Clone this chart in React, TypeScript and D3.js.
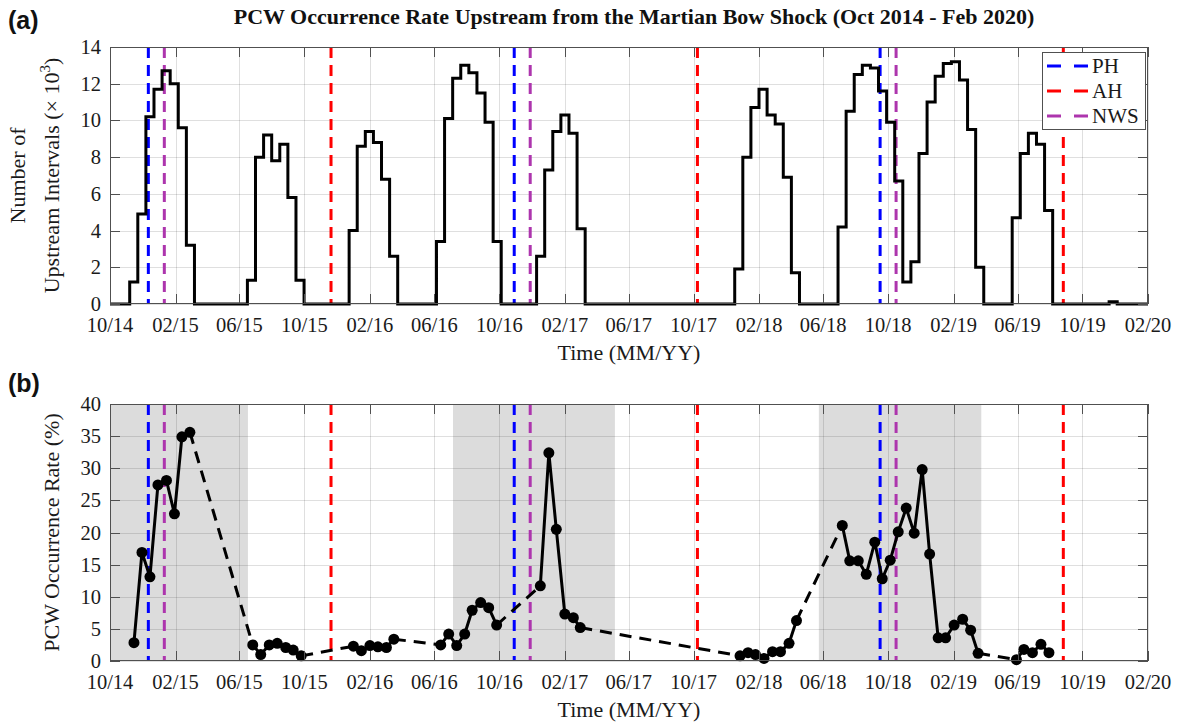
import React from "react";
import * as d3 from "d3";

// ---------- data ----------
const xStart = "2014-10-01";
const xEnd = "2020-02-01";
const xTickLabels = ["10/14", "02/15", "06/15", "10/15", "02/16", "06/16", "10/16", "02/17", "06/17", "10/17", "02/18", "06/18", "10/18", "02/19", "06/19", "10/19", "02/20"];
const yTicksTop = [0, 2, 4, 6, 8, 10, 12, 14];
const yTicksBottom = [0, 5, 10, 15, 20, 25, 30, 35, 40];

// histogram (counts x 10^3), bins of ~half a month
const binDays = 15.2;
const histRunStarts = ["2014-11-07", "2015-06-16", "2015-12-24", "2016-06-05", "2016-12-10", "2017-12-17", "2018-06-29", "2019-05-22", "2019-11-20"];
const histRun1 = [1.2, 4.9, 10.2, 11.7, 12.7, 12.0, 9.6, 3.2];
const histRun2 = [1.3, 8.0, 9.2, 7.8, 8.7, 5.8, 1.3];
const histRun3 = [4.0, 8.6, 9.4, 8.8, 6.8, 2.6];
const histRun4 = [3.4, 10.1, 12.3, 13.0, 12.6, 11.5, 9.9, 3.4];
const histRun5 = [2.6, 7.3, 9.4, 10.3, 9.3, 4.1];
const histRun6 = [1.9, 8.0, 10.7, 11.7, 10.3, 9.8, 6.9, 1.7];
const histRun7 = [4.2, 10.5, 12.5, 13.0, 12.85, 11.6, 9.9, 6.7, 1.2, 2.3, 8.2, 11.0, 12.4, 13.1, 13.2, 12.2, 9.5, 2.0];
const histRun8 = [4.7, 8.2, 9.3, 8.7, 5.1];
const histRun9 = [0.12];
const histRuns = [histRun1, histRun2, histRun3, histRun4, histRun5, histRun6, histRun7, histRun8, histRun9];

// occurrence rate (%)
const rateDates = [
  "2014-11-15", "2014-11-30", "2014-12-15", "2014-12-30", "2015-01-15", "2015-01-30", "2015-02-13", "2015-02-28",
  "2015-06-26", "2015-07-11", "2015-07-27", "2015-08-11", "2015-08-27", "2015-09-10", "2015-09-25",
  "2016-01-01", "2016-01-16", "2016-02-01", "2016-02-16", "2016-03-03", "2016-03-17",
  "2016-06-13", "2016-06-28", "2016-07-13", "2016-07-28", "2016-08-11", "2016-08-27", "2016-09-11", "2016-09-26",
  "2016-12-17", "2017-01-02", "2017-01-16", "2017-02-01", "2017-02-17", "2017-03-02",
  "2017-12-27", "2018-01-11", "2018-01-25", "2018-02-10", "2018-02-26", "2018-03-13", "2018-03-29", "2018-04-12",
  "2018-07-07", "2018-07-21", "2018-08-06", "2018-08-21", "2018-09-06", "2018-09-20", "2018-10-05", "2018-10-20",
  "2018-11-04", "2018-11-19", "2018-12-04", "2018-12-18", "2019-01-03", "2019-01-17", "2019-02-02", "2019-02-18",
  "2019-03-05", "2019-03-19",
  "2019-05-30", "2019-06-13", "2019-06-29", "2019-07-15", "2019-07-30",
];
const rateValues = [
  2.85, 16.9, 13.1, 27.4, 28.1, 22.9, 34.9, 35.6,
  2.5, 1.0, 2.5, 2.75, 2.1, 1.7, 0.8,
  2.3, 1.6, 2.4, 2.2, 2.1, 3.4,
  2.5, 4.2, 2.4, 4.2, 7.9, 9.1, 8.3, 5.6,
  11.7, 32.4, 20.5, 7.3, 6.75, 5.2,
  0.8, 1.3, 1.0, 0.4, 1.45, 1.45, 2.75, 6.3,
  21.1, 15.6, 15.6, 13.5, 18.5, 12.8, 15.7, 20.1,
  23.8, 19.9, 29.8, 16.65, 3.6, 3.6, 5.6, 6.5,
  4.8, 1.2,
  0.2, 1.8, 1.3, 2.6, 1.3,
];

// shaded seasons
const shadeStarts = ["2014-09-01", "2016-07-06", "2018-05-24"];
const shadeEnds = ["2015-06-17", "2017-05-06", "2019-03-25"];

// Mars orbit markers
const phDates = ["2014-12-12", "2016-10-29", "2018-09-16"];
const ahDates = ["2015-11-20", "2017-10-08", "2019-08-26"];
const nwsDates = ["2015-01-11", "2016-11-28", "2018-10-16"];
const markerNames = ["PH", "AH", "NWS"];

// ---------- style ----------
const BLUE = "#0000ff";
const RED = "#ff0000";
const PURPLE = "#ad35ad";
const SERIF = "'Liberation Serif', 'Times New Roman', serif";
const SANS = "'Liberation Sans', Arial, sans-serif";
const TICK_FS = 20.5;
const LABEL_FS = 22;

const parse = d3.utcParse("%Y-%m-%d") as (s: string) => Date;
const addDays = (d: Date, n: number) => new Date(d.getTime() + n * 864e5);

const W = 1188, H = 728;
const L = 110, R = 1148;
const topT = 47, topB = 304;
const botT = 404, botB = 661;
const TICK = 10;

function Grid({ y, ticks, top, bottom, x, tickDates }: any) {
  return (
    <g>
      {tickDates.map((d: Date, i: number) => (
        <line key={"gx" + i} x1={Math.round(x(d)) + 0.5} x2={Math.round(x(d)) + 0.5} y1={top} y2={bottom} stroke="#262626" strokeOpacity={0.15} strokeWidth={1} />
      ))}
      {ticks.map((t: number, i: number) => (
        <line key={"gy" + i} x1={L} x2={R} y1={Math.round(y(t)) + 0.5} y2={Math.round(y(t)) + 0.5} stroke="#262626" strokeOpacity={0.15} strokeWidth={1} />
      ))}
    </g>
  );
}

function Frame({ y, ticks, top, bottom, x, tickDates }: any) {
  return (
    <g>
      <rect x={L + 0.5} y={top + 0.5} width={R - L - 1} height={bottom - top - 1} fill="none" stroke="#505050" strokeWidth={1} />
      {tickDates.map((d: Date, i: number) => {
        const xx = Math.round(x(d)) + 0.5;
        return (
          <g key={"tx" + i}>
            <line x1={xx} x2={xx} y1={bottom} y2={bottom - TICK} stroke="#505050" />
            <line x1={xx} x2={xx} y1={top} y2={top + TICK} stroke="#505050" />
            <text x={x(d)} y={bottom + 28} textAnchor="middle" fontFamily={SERIF} fontSize={TICK_FS} fill="#1a1a1a">{xTickLabels[i]}</text>
          </g>
        );
      })}
      {ticks.map((t: number, i: number) => {
        const yy = Math.round(y(t)) + 0.5;
        return (
          <g key={"ty" + i}>
            <line x1={L} x2={L + TICK} y1={yy} y2={yy} stroke="#505050" />
            <line x1={R} x2={R - TICK} y1={yy} y2={yy} stroke="#505050" />
            <text x={101} y={y(t) + 7} textAnchor="end" fontFamily={SERIF} fontSize={TICK_FS} fill="#1a1a1a">{t}</text>
          </g>
        );
      })}
    </g>
  );
}

function VLines({ x, top, bottom }: any) {
  const sets = [
    { dates: nwsDates, color: PURPLE },
    { dates: phDates, color: BLUE },
    { dates: ahDates, color: RED },
  ];
  return (
    <g>
      {sets.map((s, i) =>
        s.dates.map((d, j) => (
          <line key={i + "-" + j} x1={x(parse(d))} x2={x(parse(d))} y1={top} y2={bottom} stroke={s.color} strokeWidth={3} strokeDasharray="11,7" />
        ))
      )}
    </g>
  );
}

export default function App() {
  const x = d3.scaleUtc().domain([parse(xStart), parse(xEnd)]).range([L, R]);
  const yTop = d3.scaleLinear().domain([0, 14]).range([topB, topT]);
  const yBot = d3.scaleLinear().domain([0, 40]).range([botB, botT]);
  const tickDates = xTickLabels.map((_, i) => d3.utcMonth.offset(parse(xStart), 4 * i));

  // histogram step points
  const stepPts: [Date, number][] = [[parse(xStart), 0]];
  histRunStarts.forEach((s, i) => {
    const sd = parse(s);
    const counts = histRuns[i];
    counts.forEach((c, j) => stepPts.push([addDays(sd, j * binDays), c]));
    stepPts.push([addDays(sd, counts.length * binDays), 0]);
  });
  stepPts.push([parse(xEnd), 0]);
  const stepLine = d3.line<[Date, number]>().x((d) => x(d[0])).y((d) => yTop(d[1])).curve(d3.curveStepAfter);

  // rate series segments
  const pts = rateDates.map((d, i) => ({ t: parse(d), v: rateValues[i] }));
  const solidGroups: { t: Date; v: number }[][] = [];
  const dashedPairs: { t: Date; v: number }[][] = [];
  let cur: { t: Date; v: number }[] = [pts[0]];
  for (let i = 1; i < pts.length; i++) {
    const gap = (pts[i].t.getTime() - pts[i - 1].t.getTime()) / 864e5;
    if (gap > 20) {
      solidGroups.push(cur);
      dashedPairs.push([pts[i - 1], pts[i]]);
      cur = [pts[i]];
    } else cur.push(pts[i]);
  }
  solidGroups.push(cur);
  const rateLine = d3.line<{ t: Date; v: number }>().x((d) => x(d.t)).y((d) => yBot(d.v));

  const legendItems = [
    { name: markerNames[0], color: BLUE },
    { name: markerNames[1], color: RED },
    { name: markerNames[2], color: PURPLE },
  ];

  return (
    <svg width={W} height={H} style={{ position: "absolute", left: 0, top: 0, background: "#fff" }}>
      <rect x={0} y={0} width={W} height={H} fill="#fff" />
      <defs>
        <clipPath id="clipBot">
          <rect x={L} y={botT} width={R - L} height={botB - botT} />
        </clipPath>
      </defs>

      {/* panel labels and title */}
      <text x={8} y={29} fontFamily={SANS} fontWeight="bold" fontSize={25} fill="#111">(a)</text>
      <text x={8} y={392} fontFamily={SANS} fontWeight="bold" fontSize={25} fill="#111">(b)</text>
      <text x={634} y={24} textAnchor="middle" fontFamily={SERIF} fontWeight="bold" fontSize={22} fill="#111">
        PCW Occurrence Rate Upstream from the Martian Bow Shock (Oct 2014 - Feb 2020)
      </text>

      {/* ---------- panel (a) ---------- */}
      <Grid y={yTop} ticks={yTicksTop} top={topT} bottom={topB} x={x} tickDates={tickDates} />
      <VLines x={x} top={topT} bottom={topB} />
      <path d={stepLine(stepPts) || ""} fill="none" stroke="#000" strokeWidth={3} strokeLinejoin="miter" />
      <Frame y={yTop} ticks={yTicksTop} top={topT} bottom={topB} x={x} tickDates={tickDates} />
      <text x={629} y={360} textAnchor="middle" fontFamily={SERIF} fontSize={LABEL_FS} fill="#1a1a1a">Time (MM/YY)</text>
      <g fontFamily={SERIF} fontSize={LABEL_FS} fill="#1a1a1a">
        <text transform={`translate(25,${(topT + topB) / 2}) rotate(-90)`} textAnchor="middle">Number of</text>
        <text transform={`translate(59,${(topT + topB) / 2}) rotate(-90)`} textAnchor="middle">
          Upstream Intervals (× 10<tspan dy={-9} fontSize={15}>3</tspan><tspan dy={9}>)</tspan>
        </text>
      </g>

      {/* legend */}
      <g>
        <rect x={1042.5} y={52.5} width={103} height={77} fill="#fff" stroke="#505050" strokeWidth={1} />
        {legendItems.map((it, i) => (
          <g key={it.name}>
            <line x1={1047} x2={1088} y1={66 + i * 25} y2={66 + i * 25} stroke={it.color} strokeWidth={3} strokeDasharray="14,13" />
            <text x={1092} y={73 + i * 25} fontFamily={SERIF} fontSize={21} fill="#1a1a1a">{it.name}</text>
          </g>
        ))}
      </g>

      {/* ---------- panel (b) ---------- */}
      <g clipPath="url(#clipBot)">
        {shadeStarts.map((s, i) => (
          <rect key={i} x={x(parse(s))} y={botT} width={x(parse(shadeEnds[i])) - x(parse(s))} height={botB - botT} fill="#dcdcdc" />
        ))}
      </g>
      <Grid y={yBot} ticks={yTicksBottom} top={botT} bottom={botB} x={x} tickDates={tickDates} />
      <VLines x={x} top={botT} bottom={botB} />
      {dashedPairs.map((p, i) => (
        <path key={"d" + i} d={rateLine(p) || ""} fill="none" stroke="#000" strokeWidth={3} strokeDasharray="12,8" />
      ))}
      {solidGroups.map((g, i) => (
        <path key={"s" + i} d={rateLine(g) || ""} fill="none" stroke="#000" strokeWidth={3} strokeLinejoin="round" />
      ))}
      {pts.map((p, i) => (
        <circle key={"c" + i} cx={x(p.t)} cy={yBot(p.v)} r={5.5} fill="#000" />
      ))}
      <Frame y={yBot} ticks={yTicksBottom} top={botT} bottom={botB} x={x} tickDates={tickDates} />
      <text x={629} y={717} textAnchor="middle" fontFamily={SERIF} fontSize={LABEL_FS} fill="#1a1a1a">Time (MM/YY)</text>
      <text transform={`translate(59,${(botT + botB) / 2}) rotate(-90)`} textAnchor="middle" fontFamily={SERIF} fontSize={LABEL_FS} fill="#1a1a1a">
        PCW Occurrence Rate (%)
      </text>
    </svg>
  );
}
